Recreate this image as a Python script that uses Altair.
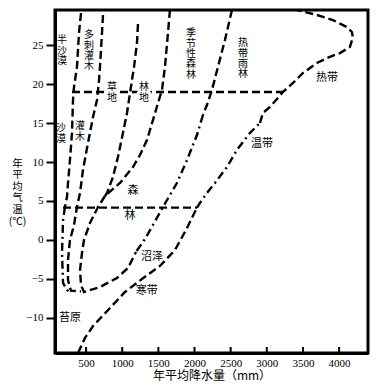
import altair as alt
import pandas as pd

# ---- axis ticks ----
X_TICKS = [500, 1000, 1500, 2000, 2500, 3000, 3500, 4000]
Y_TICKS = [-10, -5, 0, 5, 10, 15, 20, 25]

# ---- boundary curves (annual precipitation mm, annual mean temperature C) ----
L1_DASH_X = [430, 402, 374, 333, 319, 305, 277, 250, 236, 208]
L1_DASH_Y = [29.1, 26.54, 22.18, 19.62, 17.95, 13.72, 10.26, 7.31, 5.51, 4.23]
L1_DOT_X = [208, 181, 167, 181, 236, 260]
L1_DOT_Y = [4.23, 2.56, -1.67, -5.51, -6.41, -6.55]

L2_X = [734, 720, 692, 679, 651, 596, 526, 457, 416, 374, 333, 277, 250, 250, 290, 430]
L2_Y = [28.85, 26.54, 22.18, 20.51, 17.95, 15.77, 12.44, 8.97, 6.03, 4.23, 1.92, 0.0, -2.56, -5.13, -6.5, -6.6]

L3_X = [1218, 1204, 1163, 1135, 1066, 1010, 941, 872, 789, 762]
L3_Y = [27.7, 25.26, 22.18, 20.51, 16.28, 13.72, 10.64, 8.08, 6.03, 5.64]

L4_X = [1660, 1633, 1591, 1550, 1508, 1425, 1342, 1246, 1149, 969, 762]
L4_Y = [29.49, 26.54, 22.18, 19.23, 17.95, 15.38, 12.82, 10.9, 9.36, 7.31, 5.64]

U_X = [762, 665, 554, 471, 443, 416, 430, 471, 692, 927, 1080, 1190]
U_Y = [5.64, 4.23, 2.18, 0.0, -1.67, -3.85, -5.8, -6.67, -6.03, -4.87, -3.59, -1.54]

L5_DASH_X = [2518, 2421, 2324, 2241, 2172, 2117]
L5_DASH_Y = [29.49, 25.64, 22.18, 19.23, 17.3, 16.03]
L5_DOT_X = [2117, 2034, 1896, 1757, 1564, 1425, 1315, 1190]
L5_DOT_Y = [16.03, 13.46, 10.26, 7.31, 4.23, 1.92, 0.13, -1.54]

R2_LOW_X = [388, 485, 596, 831, 1038, 1273, 1522, 1730, 1882, 2034]
R2_LOW_Y = [-14.49, -12.56, -11.03, -8.72, -6.67, -5.0, -3.33, -1.28, 1.28, 4.15]
R2_MID_X = [2034, 2075, 2172, 2283, 2449, 2587, 2767, 2905]
R2_MID_Y = [4.15, 4.74, 6.03, 7.31, 9.36, 11.54, 13.72, 15.0]
R2_TOP_X = [2905, 2947, 3043, 3223, 3362, 3500, 3693, 3832, 4012, 4150, 4191, 4177, 4108, 3915, 3693, 3417]
R2_TOP_Y = [15.0, 16.28, 17.05, 18.97, 20.13, 21.41, 22.69, 23.33, 23.97, 24.74, 26.0, 26.67, 27.3, 28.2, 28.85, 29.49]

H_UP_X = [305, 3223]
H_UP_Y = [18.97, 18.97]
H_LOW_X = [181, 2034]
H_LOW_Y = [4.15, 4.15]

# ---- labels (vertical ones: y is the top of the first character) ----
V_LABELS = ["半\n沙\n漠", "多\n刺\n灌\n木", "季\n节\n性\n森\n林", "热\n带\n雨\n林",
            "沙\n漠", "灌\n木"]
V_X = [167, 540, 1951, 2670, 153, 416]
V_Y = [26.24, 26.88, 27.14, 25.86, 14.96, 15.22]

ON_LINE_LABELS = ["草\n地", "林\n地"]
ON_LINE_X = [858, 1301]
ON_LINE_Y = [20.22, 20.22]

H_LABELS = ["森", "林", "沼泽", "寒带", "苔原", "热带", "温带"]
H_X = [1149, 1107, 1412, 1340, 277, 3832, 2933]
H_Y = [6.28, 3.06, -2.18, -6.6, -10.0, 20.77, 12.3]

rows = []


def add(name, style, xs, ys):
    for i, (x, y) in enumerate(zip(xs, ys)):
        rows.append({"seg": name, "style": style, "i": i, "x": x, "y": y})


add("l1a", "dash", L1_DASH_X, L1_DASH_Y)
add("l1b", "dashdot", L1_DOT_X, L1_DOT_Y)
add("l2", "dash", L2_X, L2_Y)
add("l3", "dash", L3_X, L3_Y)
add("l4", "dash", L4_X, L4_Y)
add("u", "dash", U_X, U_Y)
add("l5a", "dash", L5_DASH_X, L5_DASH_Y)
add("l5b", "dashdot", L5_DOT_X, L5_DOT_Y)
add("r2a", "dash", R2_LOW_X, R2_LOW_Y)
add("r2b", "dashdot", R2_MID_X, R2_MID_Y)
add("r2c", "dash", R2_TOP_X, R2_TOP_Y)
add("hu", "dash", H_UP_X, H_UP_Y)
add("hl", "dash", H_LOW_X, H_LOW_Y)
df = pd.DataFrame(rows)

W, H = 313, 343
xscale = alt.Scale(domain=[70, 4400], nice=False, zero=False)
yscale = alt.Scale(domain=[-14.49, 29.49], nice=False, zero=False)

lines = alt.Chart(df).mark_line(color="black", strokeWidth=2.4, clip=True).encode(
    x=alt.X("x:Q", scale=xscale, title="年平均降水量（mm）",
            axis=alt.Axis(values=X_TICKS, format="d", ticks=False, tickSize=0, grid=False,
                          domainColor="black", domainWidth=3, labelPadding=4,
                          labelFont="Liberation Serif", labelFontSize=11, labelColor="black",
                          titleFont="Noto Sans CJK SC", titleFontSize=12, titleFontWeight="normal",
                          titleColor="black", titleY=22, titleBaseline="middle")),
    y=alt.Y("y:Q", scale=yscale, title=["年", "平", "均", "气", "温", "(℃)"],
            axis=alt.Axis(values=Y_TICKS, tickSize=9, tickWidth=2, tickColor="black", grid=False,
                          domainColor="black", domainWidth=3, labelPadding=3,
                          labelFont="Liberation Serif", labelFontSize=11, labelColor="black",
                          titleFont="Noto Sans CJK SC", titleFontSize=10.5, titleFontWeight="normal",
                          titleColor="black", titleAngle=0, titleX=-38, titleY=148,
                          titleAlign="center", titleBaseline="top", titleLineHeight=11.6)),
    detail="seg:N",
    order="i:Q",
    strokeDash=alt.StrokeDash("style:N", scale=alt.Scale(domain=["dash", "dashdot"],
                                                         range=[[8, 4], [8, 4, 2, 4]]), legend=None),
)

xt = alt.Chart(pd.DataFrame({"x": X_TICKS})).mark_rule(color="black", strokeWidth=2).encode(
    x=alt.X("x:Q", scale=xscale), y=alt.value(H), y2=alt.value(H - 6))

vdf = pd.DataFrame({"t": V_LABELS, "x": V_X, "y": V_Y})
odf = pd.DataFrame({"t": ON_LINE_LABELS, "x": ON_LINE_X, "y": ON_LINE_Y})
hdf = pd.DataFrame({"t": H_LABELS, "x": H_X, "y": H_Y})

vtext_kw = dict(font="Noto Sans CJK SC", fontSize=10, lineBreak="\n", lineHeight=10.3, baseline="top")
enc = dict(x=alt.X("x:Q", scale=xscale), y=alt.Y("y:Q", scale=yscale), text="t:N")

ohalo = alt.Chart(odf).mark_text(color="white", stroke="white", strokeWidth=5, **vtext_kw).encode(**enc)
otext = alt.Chart(odf).mark_text(color="black", **vtext_kw).encode(**enc)
vtext = alt.Chart(vdf).mark_text(color="black", **vtext_kw).encode(**enc)
htext = alt.Chart(hdf).mark_text(font="Noto Sans CJK SC", fontSize=11, color="black").encode(**enc)

chart = alt.layer(lines, xt, ohalo, otext, vtext, htext).properties(
    width=W, height=H,
    autosize=alt.AutoSizeParams(type="none"),
    padding={"left": 47, "top": 2, "right": 5, "bottom": 30},
    background="white",
).configure_view(stroke="black", strokeWidth=3)

chart.save("out.html", embed_options={"renderer": "svg", "actions": False})
